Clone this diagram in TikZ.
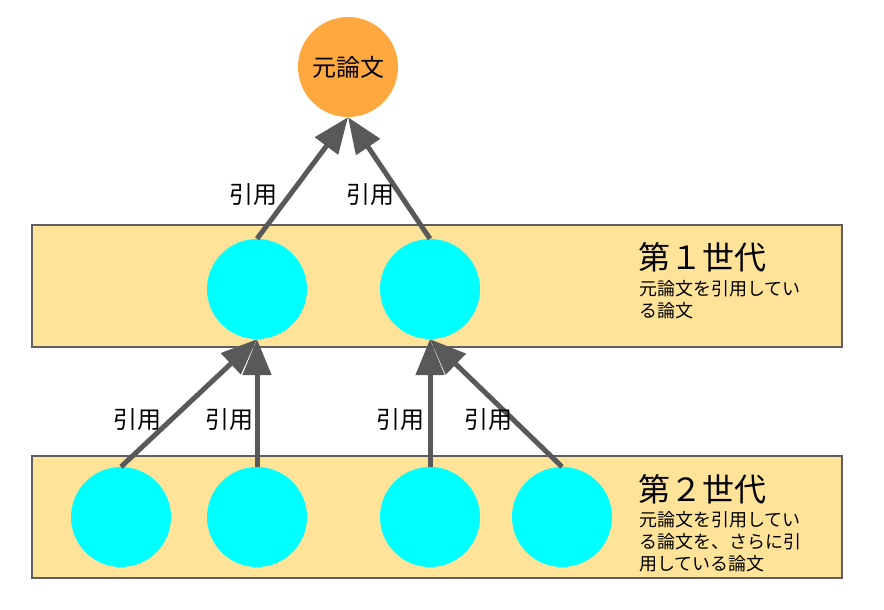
\documentclass[tikz,border=0pt]{standalone}
\usepackage{fontspec}
\setmainfont{Noto Sans CJK JP}
\usetikzlibrary{arrows.meta}
\definecolor{bandfill}{HTML}{FFE399}
\definecolor{bandline}{HTML}{5F5F5F}
\definecolor{origfill}{HTML}{FFA83F}
\definecolor{arrowgray}{HTML}{595959}
\definecolor{papercyan}{HTML}{00FFFF}
\tikzset{
  band/.style={draw=bandline, line width=1.2pt, fill=bandfill},
  paper/.style={circle, fill=papercyan, minimum size=100pt, inner sep=0pt},
  origpaper/.style={circle, fill=origfill, minimum size=100pt, inner sep=0pt, font=\fontsize{24}{28}\selectfont},
  cite/.style={draw=arrowgray, line width=5pt, -{Triangle[length=36pt,width=28pt]}},
  citelabel/.style={font=\fontsize{24}{28}\selectfont, inner sep=0pt},
  gentitle/.style={anchor=west, font=\fontsize{32}{36}\selectfont, inner sep=0pt},
  gentext/.style={anchor=north west, align=left, font=\fontsize{18}{22}\selectfont, inner sep=0pt}
}
\begin{document}
\begin{tikzpicture}[x=1pt, y=-1pt]
\useasboundingbox (0,0) rectangle (884,610);
% bands
\draw[band] (32,225) rectangle (842,347);
\draw[band] (32,456) rectangle (842,578);
% papers
\node[origpaper] (orig) at (348,67) {元論文};
\node[paper] (a1) at (257,289) {};
\node[paper] (a2) at (430,289) {};
\node[paper] (b1) at (121,517) {};
\node[paper] (b2) at (257,517) {};
\node[paper] (b3) at (430,517) {};
\node[paper] (b4) at (562,517) {};
% citations
\draw[cite] (a1.north) -- (orig.south);
\draw[cite] (a2.north) -- (orig.south);
\draw[cite] (b1.north) -- (a1.south);
\draw[cite] (b2.north) -- (a1.south);
\draw[cite] (b3.north) -- (a2.south);
\draw[cite] (b4.north) -- (a2.south);
% labels
\node[citelabel] (l1) at (253,195) {引用};
\node[citelabel] (l2) at (370,195) {引用};
\node[citelabel] (l3) at (137,420) {引用};
\node[citelabel] (l4) at (229,420) {引用};
\node[citelabel] (l5) at (400,420) {引用};
\node[citelabel] (l6) at (488,420) {引用};
% generation texts
\node[gentitle] (g1) at (638,257) {第１世代};
\node[gentext] (g1t) at (639,280) {元論文を引用してい\\る論文};
\node[gentitle] (g2) at (638,489) {第２世代};
\node[gentext] (g2t) at (639,511) {元論文を引用してい\\る論文を、さらに引\\用している論文};
\end{tikzpicture}
\end{document}
